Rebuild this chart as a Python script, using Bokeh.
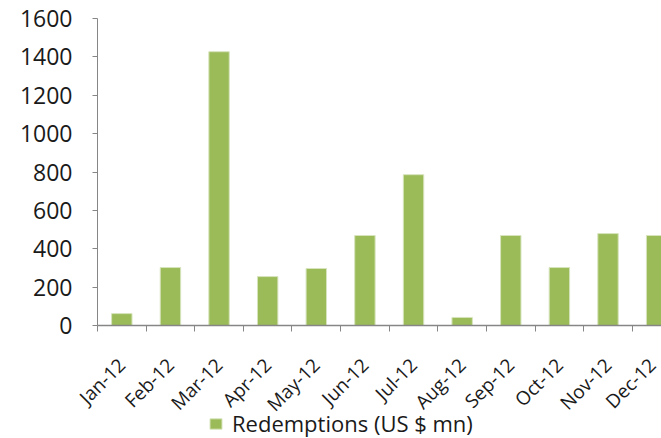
from bokeh.plotting import figure
from bokeh.models import Range1d, FixedTicker, Legend, LegendItem, ColumnDataSource
from bokeh.embed import file_html
from bokeh.resources import INLINE
import math

months = ["Jan-12", "Feb-12", "Mar-12", "Apr-12", "May-12", "Jun-12",
          "Jul-12", "Aug-12", "Sep-12", "Oct-12", "Nov-12", "Dec-12"]
redemptions = [62, 302, 1427, 255, 297, 469, 786, 42, 469, 302, 479, 469]
y_ticks = [0, 200, 400, 600, 800, 1000, 1200, 1400, 1600]
series_name = "Redemptions (US $ mn)"

xpos = list(range(len(months)))
src = ColumnDataSource(dict(x=xpos, y=redemptions))

# The frame covers the whole page so axis labels and legend are not clipped.
# Value axis spans 0..1600 over 307px, starting 18px from the top;
# category axis: 48.62px per month, starting 97px from the left.
y_max = 1600
px_per_val = 307 / y_max
y_lo = -113 / px_per_val
y_hi = y_max + 18 / px_per_val
px_per_cat = 564 / 11.6
x_lo = -0.5 - 97 / px_per_cat
x_hi = 11.1

p = figure(width=661, height=438, output_backend="svg", toolbar_location=None,
           x_range=Range1d(x_lo, x_hi), y_range=Range1d(y_lo, y_hi),
           min_border_left=0, min_border_top=0, min_border_right=0,
           min_border_bottom=0,
           frame_width=661, frame_height=438)
p.outline_line_color = None
p.background_fill_color = "white"
p.border_fill_color = "white"
p.xgrid.grid_line_color = None
p.ygrid.grid_line_color = None

r = p.vbar(x="x", top="y", width=0.42, bottom=0, source=src,
           fill_color="#9BBB59", line_color="#D7E4BD", line_width=1)

font = "Open Sans"
# y axis, drawn at the left edge of the first category
p.yaxis.fixed_location = -0.5
p.yaxis.ticker = FixedTicker(ticks=y_ticks)
p.yaxis.bounds = (0, y_max)
p.yaxis.axis_line_color = "#868686"
p.yaxis.major_tick_line_color = "#868686"
p.yaxis.major_tick_out = 5
p.yaxis.major_tick_in = 0
p.yaxis.minor_tick_line_color = None
p.yaxis.major_label_text_font = font
p.yaxis.major_label_text_font_size = "23px"
p.yaxis.major_label_text_color = "#1a1a1a"
p.yaxis.major_label_standoff = 20

# x axis, drawn at value 0
bounds = [i - 0.5 for i in range(len(months) + 1)]
p.xaxis.fixed_location = 0
p.xaxis.bounds = (-0.5, x_hi)
p.xaxis.ticker = FixedTicker(ticks=xpos, minor_ticks=bounds)
p.xaxis.major_label_overrides = {i: m for i, m in enumerate(months)}
p.xaxis.major_tick_line_color = None
p.xaxis.minor_tick_line_color = "#868686"
p.xaxis.minor_tick_out = 6
p.xaxis.minor_tick_in = 0
p.xaxis.axis_line_color = "#868686"
p.xaxis.axis_line_width = 1.5
p.xaxis.major_label_orientation = math.pi / 4
p.xaxis.major_label_text_font = font
p.xaxis.major_label_text_font_size = "19px"
p.xaxis.major_label_text_color = "#1a1a1a"
p.xaxis.major_label_standoff = 30

legend = Legend(items=[LegendItem(label=series_name, renderers=[r])],
                location=(208, 0), orientation="horizontal",
                label_text_font=font, label_text_font_size="22px",
                label_text_color="#1a1a1a", label_standoff=9,
                glyph_width=15, glyph_height=13, padding=0, margin=0,
                border_line_color=None, background_fill_alpha=0)
p.add_layout(legend, "center")

open("out.html", "w").write(file_html(p, INLINE))
